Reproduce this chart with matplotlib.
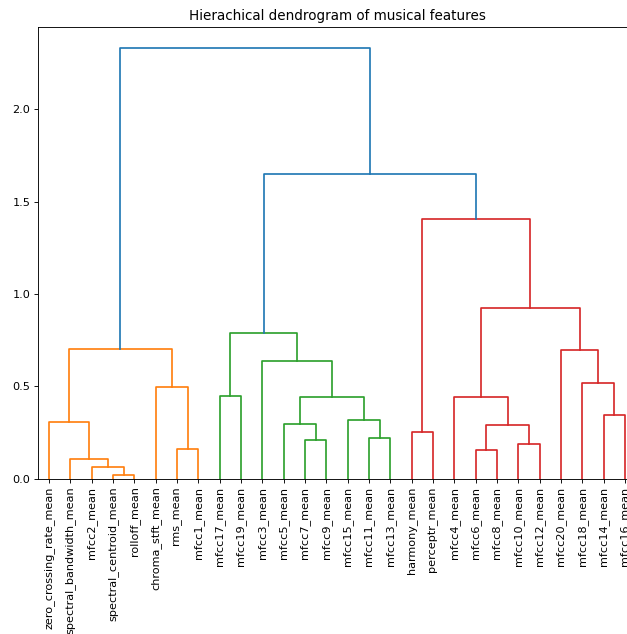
import matplotlib
matplotlib.use("Agg")
import matplotlib.pyplot as plt
import numpy as np

# leaves in the order they appear along the x axis
leaf_labels = [
    "zero_crossing_rate_mean", "spectral_bandwidth_mean", "mfcc2_mean",
    "spectral_centroid_mean", "rolloff_mean", "chroma_stft_mean", "rms_mean",
    "mfcc1_mean", "mfcc17_mean", "mfcc19_mean", "mfcc3_mean", "mfcc5_mean",
    "mfcc7_mean", "mfcc9_mean", "mfcc15_mean", "mfcc11_mean", "mfcc13_mean",
    "harmony_mean", "perceptr_mean", "mfcc4_mean", "mfcc6_mean", "mfcc8_mean",
    "mfcc10_mean", "mfcc12_mean", "mfcc20_mean", "mfcc18_mean", "mfcc14_mean",
    "mfcc16_mean",
]

# linkage-style merges: ids < n are leaves, id n + k is the k-th merge
merge_pairs = [
    (3, 4), (2, 28), (1, 29), (20, 21), (6, 7), (22, 23), (12, 13), (15, 16),
    (17, 18), (31, 33), (11, 34), (0, 30), (14, 35), (26, 27), (38, 40),
    (19, 37), (8, 9), (5, 32), (25, 41), (10, 42), (24, 46), (39, 45),
    (44, 47), (43, 48), (36, 51), (50, 52), (49, 53),
]
merge_heights = [
    0.020, 0.063, 0.105, 0.155, 0.161, 0.186, 0.210, 0.220, 0.253, 0.291,
    0.296, 0.307, 0.317, 0.345, 0.442, 0.441, 0.449, 0.498, 0.520, 0.636,
    0.699, 0.700, 0.789, 0.922, 1.404, 1.650, 2.330,
]

n = len(leaf_labels)
threshold = 0.7 * max(merge_heights)
palette = ["C1", "C2", "C3", "C4", "C5", "C6", "C7", "C8", "C9"]

xpos = {i: 5.0 + 10.0 * i for i in range(n)}
ypos = {i: 0.0 for i in range(n)}
for k, ((a, b), h) in enumerate(zip(merge_pairs, merge_heights)):
    xpos[n + k] = (xpos[a] + xpos[b]) / 2
    ypos[n + k] = h

# colour each sub-threshold cluster, walking from the top down
colors = {}
next_color = [0]


def assign(node, color):
    if node < n:
        return
    k = node - n
    h = merge_heights[k]
    if color is None and h < threshold:
        color = palette[next_color[0] % len(palette)]
        next_color[0] += 1
    colors[node] = color if color is not None else "C0"
    for child in merge_pairs[k]:
        assign(child, color)


assign(n + len(merge_pairs) - 1, None)

W, H = 627, 634
DPI = 81
fig = plt.figure(figsize=(W / DPI, H / DPI), dpi=DPI)
ax = fig.add_axes([38.3 / W, (H - 478.7) / H, (635.6 - 38.3) / W, (478.7 - 26.7) / H])

for k, (a, b) in enumerate(merge_pairs):
    node = n + k
    h = merge_heights[k]
    ax.plot([xpos[a], xpos[a], xpos[b], xpos[b]], [ypos[a], h, h, ypos[b]],
            color=colors[node], lw=1.5)

ax.set_xlim(0, 10 * n)
ax.set_ylim(0, max(merge_heights) * 1.05)
ax.set_xticks([xpos[i] for i in range(n)])
ax.set_xticklabels(leaf_labels, rotation=90, fontsize=10)
ax.set_yticks(np.arange(0, 2.01, 0.5))
ax.tick_params(axis="y", labelsize=10)
ax.set_title("Hierachical dendrogram of musical features", fontsize=12)

fig.savefig("out.png", dpi=DPI)
